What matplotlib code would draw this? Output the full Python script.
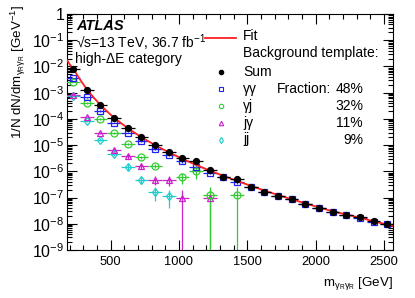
import numpy as np
import matplotlib.pyplot as plt
from matplotlib.ticker import FixedLocator, MultipleLocator, NullFormatter

plt.rcParams['font.family'] = ['Liberation Sans', 'DejaVu Sans']
plt.rcParams['mathtext.fontset'] = 'custom'
plt.rcParams['mathtext.rm'] = 'Liberation Sans'
plt.rcParams['mathtext.it'] = 'Liberation Sans:italic'
plt.rcParams['mathtext.bf'] = 'Liberation Sans:bold'
plt.rcParams['mathtext.default'] = 'regular'

# bin centres [GeV], 100 GeV bins
mass = [225, 325, 425, 525, 625, 725, 825, 925, 1025, 1125, 1225, 1325,
        1425, 1525, 1625, 1725, 1825, 1925, 2025, 2125, 2225, 2325, 2425, 2525]
half_width = 50

# Sum of templates
sum_val = [7.9e-3, 1.29e-3, 3.38e-4, 1.10e-4, 4.65e-5, 2.06e-5, 1.02e-5, 5.3e-6,
           3.1e-6, 2.45e-6, 1.11e-6, 5.9e-7, 4.9e-7, 2.56e-7, 1.70e-7, 1.15e-7,
           8.7e-8, 5.9e-8, 4.16e-8, 2.93e-8, 2.19e-8, 1.74e-8, 1.23e-8, 9.6e-9]
sum_rel = [0.02, 0.03, 0.04, 0.05, 0.06, 0.07, 0.08, 0.09, 0.1, 0.1, 0.1, 0.1,
           0.1, 0.1, 0.1, 0.1, 0.1, 0.1, 0.1, 0.1, 0.1, 0.1, 0.1, 0.1]

nan = np.nan
# gamma gamma
gg_val = [3.5e-3, 6.8e-4, 2.0e-4, 7.1e-5, 3.0e-5, 1.44e-5, 7.4e-6, 4.2e-6,
          2.4e-6, 1.48e-6, 8.9e-7, 5.9e-7, 3.8e-7, 2.5e-7, 1.67e-7, 1.13e-7,
          8.5e-8, 5.8e-8, 4.1e-8, 2.9e-8, 2.15e-8, 1.7e-8, 1.2e-8, 9.4e-9]
gg_rel = [0.03, 0.04, 0.05, 0.06, 0.07, 0.08, 0.09, 0.1, 0.1, 0.1, 0.1, 0.1,
          0.1, 0.1, 0.1, 0.1, 0.1, 0.1, 0.1, 0.1, 0.1, 0.1, 0.1, 0.1]
# gamma jet
gj_val = [2.65e-3, 4.1e-4, 9.6e-5, 2.95e-5, 1.1e-5, 3.4e-6, 1.62e-6, nan,
          6.0e-7, 1.02e-6, 1.23e-7, nan, 1.23e-7]
gj_rel = [0.04, 0.06, 0.08, 0.1, 0.12, 0.15, 0.2, 0, 0.45, 0.5, 1.0, 0, 1.0]
# jet gamma
jg_val = [8.3e-4, 1.17e-4, 2.9e-5, 6.5e-6, 3.8e-6, 1.58e-6, 4.8e-7, 4.8e-7,
          1.0e-7, nan, 1.0e-7]
jg_rel = [0.06, 0.1, 0.12, 0.15, 0.2, 0.25, 0.35, 0.4, 1.0, 0, 1.0]
# jet jet
jj_val = [7.4e-4, 8.5e-5, 1.62e-5, 4.6e-6, 1.48e-6, 4.8e-7, 1.69e-7, 1.18e-7]
jj_rel = [0.06, 0.1, 0.15, 0.2, 0.25, 0.3, 0.55, 0.65]

# fit curve
fit_mass = [180, 200, 225, 275, 325, 375, 425, 475, 525, 625, 725, 825, 925,
            1025, 1125, 1225, 1325, 1425, 1525, 1625, 1725, 1825, 1925, 2025,
            2125, 2225, 2325, 2425, 2525, 2570]
fit_val = [1.75e-2, 1.2e-2, 8.3e-3, 3.2e-3, 1.35e-3, 6.5e-4, 3.4e-4, 1.9e-4,
           1.1e-4, 4.4e-5, 2.0e-5, 1.0e-5, 5.3e-6, 3.0e-6, 1.75e-6, 1.07e-6,
           6.7e-7, 4.3e-7, 2.8e-7, 1.85e-7, 1.25e-7, 8.6e-8, 6.0e-8, 4.2e-8,
           3.0e-8, 2.25e-8, 1.7e-8, 1.25e-8, 9.3e-9, 8.2e-9]

fractions = ["48%", "32%", "11%", "9%"]


def draw_series(ax, vals, rel, color, marker, ms, mfc='none', z=3):
    x = np.array(mass[:len(vals)], dtype=float)
    v = np.array(vals, dtype=float)
    r = np.array(rel, dtype=float)
    ok = ~np.isnan(v)
    x, v, r = x[ok], v[ok], r[ok]
    lo = v * np.minimum(r, 0.999)
    hi = v * r
    ax.errorbar(x, v, xerr=half_width, yerr=[lo, hi], fmt=marker, color=color,
                mfc=mfc, mec=color, ms=ms, mew=0.9, elinewidth=0.9, capsize=0,
                zorder=z)


fig = plt.figure(figsize=(4.15, 2.98), dpi=100)
L, R, B, T = 67, 393, 250, 14
ax = fig.add_axes([L / 415, (298 - B) / 298, (R - L) / 415, (B - T) / 298])

jj_c = '#22cccc'
jg_c = '#cc22cc'
gj_c = '#33cc33'
gg_c = '#2222ee'

draw_series(ax, jj_val, jj_rel, jj_c, 'd', 4.5)
draw_series(ax, jg_val, jg_rel, jg_c, '^', 5)
draw_series(ax, gj_val, gj_rel, gj_c, 'o', 5)
draw_series(ax, gg_val, gg_rel, gg_c, 's', 5)
ax.plot(fit_mass, fit_val, color='#ff2020', lw=1.3, zorder=4)
draw_series(ax, sum_val, sum_rel, 'black', 'o', 4.3, mfc='black', z=5)

ax.set_yscale('log')
ax.set_xlim(180, 2567)
ax.set_ylim(1e-9, 1)

ax.xaxis.set_major_locator(MultipleLocator(500))
ax.xaxis.set_minor_locator(MultipleLocator(100))
ax.yaxis.set_major_locator(FixedLocator([10.0 ** -k for k in range(10)]))
ax.yaxis.set_minor_locator(FixedLocator([m * 10.0 ** -k for k in range(1, 10)
                                         for m in range(2, 10)]))
ax.yaxis.set_minor_formatter(NullFormatter())
ax.set_yticklabels(['1'] + ['$10^{-%d}$' % k for k in range(1, 10)])
ax.tick_params(axis='both', which='both', direction='in', top=True, right=True,
               width=0.8)
ax.tick_params(axis='both', which='major', length=7)
ax.tick_params(axis='both', which='minor', length=3.5)
ax.tick_params(axis='x', labelsize=9.3, pad=4)
ax.tick_params(axis='y', labelsize=11.5, pad=2)
for s in ax.spines.values():
    s.set_linewidth(0.8)

fig.text(393 / 415, (298 - 283) / 298, r'm$_{\gamma_{R}\gamma_{R}}$ [GeV]',
         ha='right', va='center', fontsize=9.6)
fig.text(18 / 415, (298 - 5) / 298, r'1/N dN/dm$_{\gamma_{R}\gamma_{R}}$ [GeV$^{-1}$]',
         rotation=90, ha='center', va='top', fontsize=9.6)


def axp(px, py):
    return (px - L) / (R - L), (B - py) / (B - T)


tr = ax.transAxes
ax.text(*axp(76, 25.5), 'ATLAS', transform=tr, fontsize=10.5, fontweight='bold',
        fontstyle='italic', va='center', ha='left')
ax.text(*axp(76, 43), '√s=13 TeV, 36.7 fb$^{-1}$', transform=tr,
        fontsize=10, va='center', ha='left')
ax.text(*axp(75, 59), 'high-ΔE category', transform=tr, fontsize=10,
        va='center', ha='left')

# legend, drawn by hand like the ROOT one
x0, y0 = axp(205, 37.7)
x1, _ = axp(236, 37.7)
ax.plot([x0, x1], [y0, y0], color='#ff2020', lw=1.3, transform=tr, clip_on=False)
ax.text(*axp(243, 36.5), 'Fit', transform=tr, fontsize=10, va='center')
ax.text(*axp(243, 53.5), 'Background template:', transform=tr, fontsize=10,
        va='center')
entries = [('Sum', 'o', 'black', 'black', 71.5),
           ('γγ', 's', gg_c, 'none', 88.7),
           ('γj', 'o', gj_c, 'none', 105.7),
           ('jγ', '^', jg_c, 'none', 122.7),
           ('jj', 'd', jj_c, 'none', 139.5)]
for name, mk, col, fc, py in entries:
    mx, my = axp(221, py + 0.5)
    ax.plot([mx], [my], marker=mk, color=col, mfc=fc, mec=col, ms=3.2, mew=0.8,
            transform=tr, clip_on=False, ls='none')
    ax.text(*axp(243, py), name, transform=tr, fontsize=10, va='center')
ax.text(*axp(277, 88.7), 'Fraction:', transform=tr, fontsize=10, va='center')
for frac, py in zip(fractions, [88.7, 105.7, 122.7, 139.5]):
    ax.text(*axp(363, py), frac, transform=tr, fontsize=10, va='center', ha='right')

fig.savefig('out.png', dpi=100)
